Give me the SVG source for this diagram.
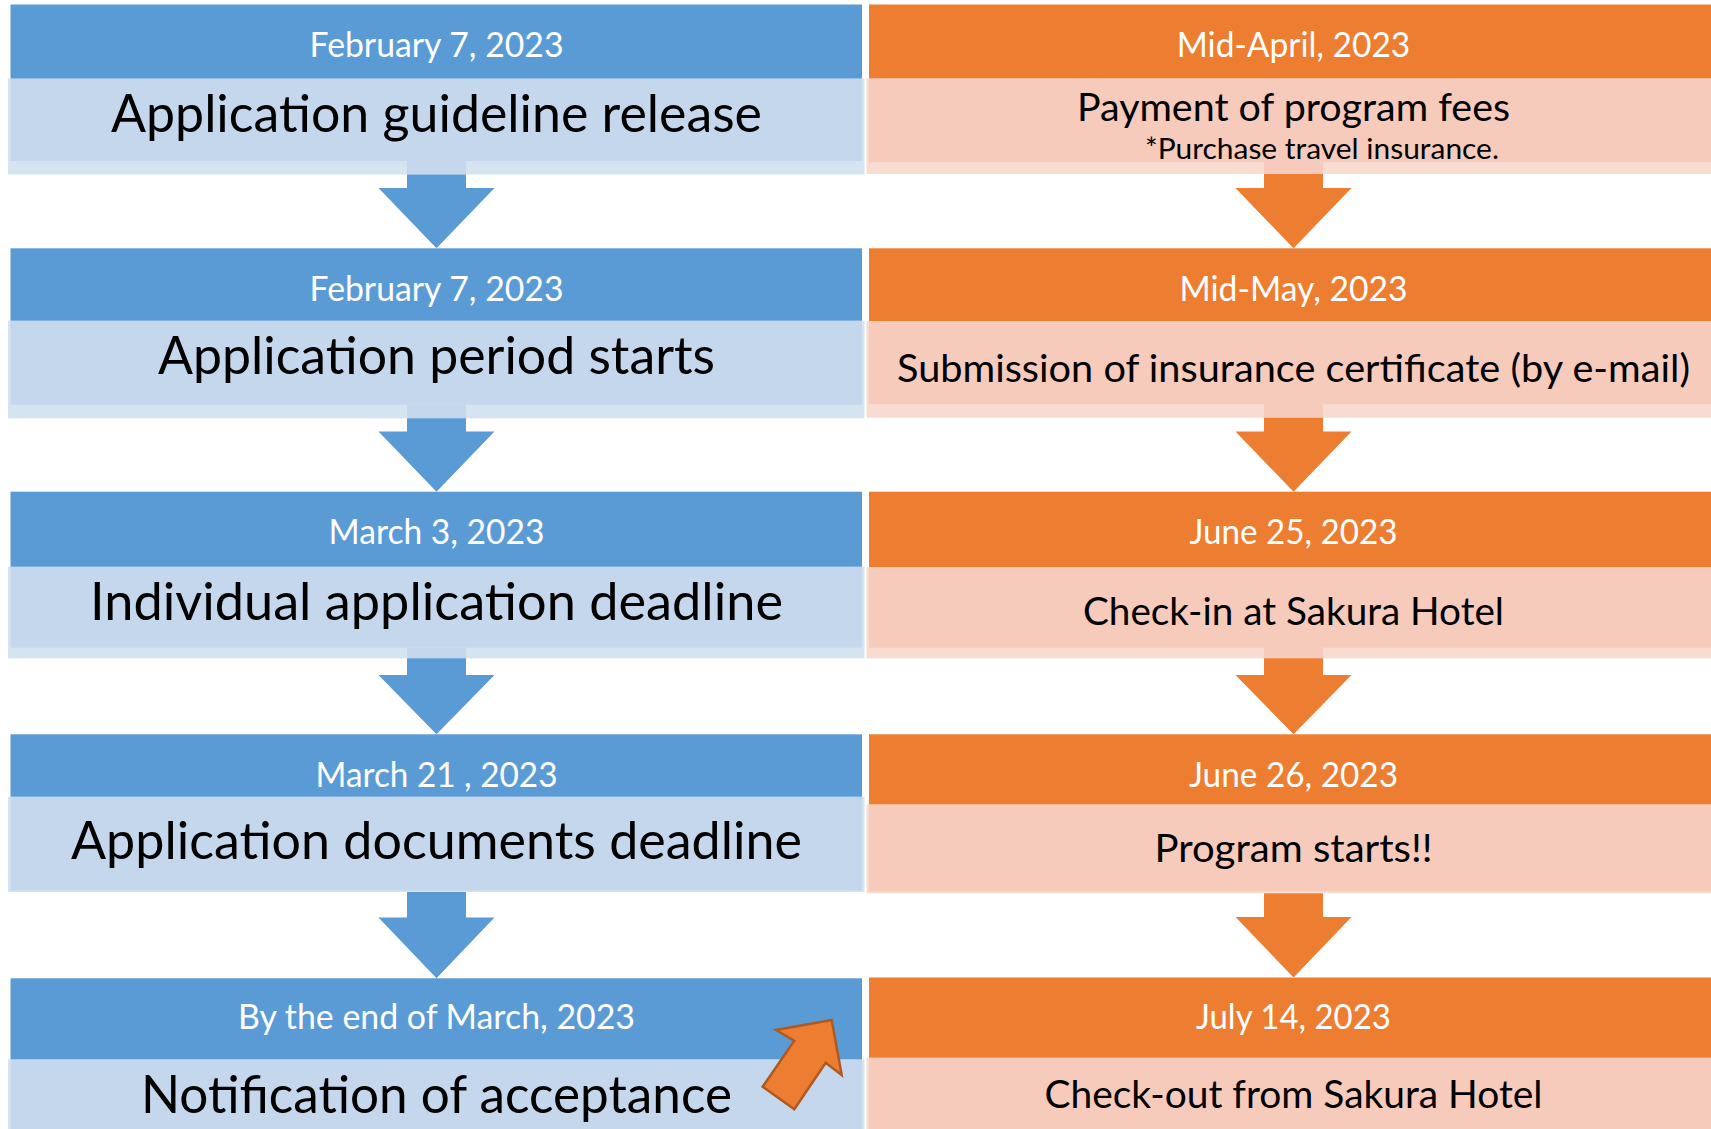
<svg xmlns="http://www.w3.org/2000/svg" width="1711" height="1129" viewBox="0 0 1711 1129">
<defs>
<style>
.hdrB{fill:#5b9bd5}.bodyB{fill:#c5d7ec}.bandB{fill:#d6e3f1}
.hdrO{fill:#ed7d31}.bodyO{fill:#f6cbbc}.bandO{fill:#f8dcd2}
text{font-family:Lato,"Liberation Sans",sans-serif;text-anchor:middle}
.date{font-size:34.5px;fill:#ffffff}
.mainL{font-size:51.5px;fill:#000000}
.mainR{font-size:39.5px;fill:#000000}
.note{font-size:29.5px;fill:#000000}
.arB{fill:#5b9bd5}.arO{fill:#ed7d31}
.ptr{fill:#ed7d31;stroke:#ae5a21;stroke-width:2.5;stroke-linejoin:miter}
</style>
</defs>
<rect width="1711" height="1129" fill="#ffffff"/>

<g id="L1">
<rect class="bandB" x="8" y="78.5" width="856.5" height="96"/>
<rect class="bodyB" x="10.5" y="78.5" width="851.5" height="82.5"/>
<rect class="hdrB" x="10.5" y="4.5" width="851.5" height="74"/>
<text class="date" x="436.5" y="56.7" textLength="254" lengthAdjust="spacingAndGlyphs">February 7, 2023</text>
<text class="mainL" x="436.5" y="131.7" textLength="651" lengthAdjust="spacingAndGlyphs">Application guideline release</text>
</g>
<g id="L2">
<rect class="bandB" x="8" y="320.7" width="856.5" height="97.6"/>
<rect class="bodyB" x="10.5" y="320.7" width="851.5" height="84"/>
<rect class="hdrB" x="10.5" y="248.3" width="851.5" height="72.4"/>
<text class="date" x="436.5" y="300.5" textLength="254" lengthAdjust="spacingAndGlyphs">February 7, 2023</text>
<text class="mainL" x="436.5" y="373.5" textLength="557" lengthAdjust="spacingAndGlyphs">Application period starts</text>
</g>
<g id="L3">
<rect class="bandB" x="8" y="566.7" width="856.5" height="91.6"/>
<rect class="bodyB" x="10.5" y="566.7" width="851.5" height="81"/>
<rect class="hdrB" x="10.5" y="491.7" width="851.5" height="75"/>
<text class="date" x="436.5" y="544" textLength="216" lengthAdjust="spacingAndGlyphs">March 3, 2023</text>
<text class="mainL" x="436.5" y="620" textLength="693" lengthAdjust="spacingAndGlyphs">Individual application deadline</text>
</g>
<g id="L4">
<rect class="bandB" x="8" y="796.7" width="856.5" height="95.3"/>
<rect class="bodyB" x="10.5" y="796.7" width="851.5" height="93.8"/>
<rect class="hdrB" x="10.5" y="734.3" width="851.5" height="62.4"/>
<text class="date" x="436.5" y="786.7" textLength="242" lengthAdjust="spacingAndGlyphs">March 21 , 2023</text>
<text class="mainL" x="436.5" y="859.3" textLength="731" lengthAdjust="spacingAndGlyphs">Application documents deadline</text>
</g>
<g id="L5">
<rect class="bandB" x="8" y="1059.3" width="856.5" height="70"/>
<rect class="bodyB" x="10.5" y="1059.3" width="851.5" height="70"/>
<rect class="hdrB" x="10.5" y="978.3" width="851.5" height="81"/>
<text class="date" x="436.5" y="1029.3" textLength="397" lengthAdjust="spacingAndGlyphs">By the end of March, 2023</text>
<text class="mainL" x="436.5" y="1113.3" textLength="591" lengthAdjust="spacingAndGlyphs">Notification of acceptance</text>
</g>

<g id="R1">
<rect class="bandO" x="866.5" y="78.3" width="844.5" height="95.7"/>
<rect class="bodyO" x="869" y="78.3" width="842" height="84"/>
<rect class="hdrO" x="869" y="4.5" width="842" height="73.8"/>
<text class="date" x="1293.5" y="56.7" textLength="233.5" lengthAdjust="spacingAndGlyphs">Mid-April, 2023</text>
<text class="mainR" x="1293.5" y="121" textLength="433" lengthAdjust="spacingAndGlyphs">Payment of program fees</text>
<text class="note" x="1322" y="159.3" textLength="354" lengthAdjust="spacingAndGlyphs">*Purchase travel insurance.</text>
</g>
<g id="R2">
<rect class="bandO" x="866.5" y="321" width="844.5" height="96.7"/>
<rect class="bodyO" x="869" y="321" width="842" height="83.3"/>
<rect class="hdrO" x="869" y="248.3" width="842" height="72.7"/>
<text class="date" x="1293.5" y="300.5" textLength="228" lengthAdjust="spacingAndGlyphs">Mid-May, 2023</text>
<text class="mainR" x="1293.5" y="381.5" textLength="793" lengthAdjust="spacingAndGlyphs">Submission of insurance certificate (by e-mail)</text>
</g>
<g id="R3">
<rect class="bandO" x="866.5" y="567" width="844.5" height="91.3"/>
<rect class="bodyO" x="869" y="567" width="842" height="80.7"/>
<rect class="hdrO" x="869" y="491.7" width="842" height="75.3"/>
<text class="date" x="1293.5" y="544" textLength="208" lengthAdjust="spacingAndGlyphs">June 25, 2023</text>
<text class="mainR" x="1293.5" y="624.5" textLength="421" lengthAdjust="spacingAndGlyphs">Check-in at Sakura Hotel</text>
</g>
<g id="R4">
<rect class="bandO" x="866.5" y="804.3" width="844.5" height="89"/>
<rect class="bodyO" x="869" y="804.3" width="842" height="87.2"/>
<rect class="hdrO" x="869" y="734.3" width="842" height="70"/>
<text class="date" x="1293.5" y="786.7" textLength="209" lengthAdjust="spacingAndGlyphs">June 26, 2023</text>
<text class="mainR" x="1293.5" y="862" textLength="278" lengthAdjust="spacingAndGlyphs">Program starts!!</text>
</g>
<g id="R5">
<rect class="bandO" x="866.5" y="1057.7" width="844.5" height="71.3"/>
<rect class="bodyO" x="869" y="1057.7" width="842" height="71.3"/>
<rect class="hdrO" x="869" y="977.5" width="842" height="80.2"/>
<text class="date" x="1293.5" y="1029.3" textLength="195" lengthAdjust="spacingAndGlyphs">July 14, 2023</text>
<text class="mainR" x="1293.5" y="1107.5" textLength="498" lengthAdjust="spacingAndGlyphs">Check-out from Sakura Hotel</text>
</g>

<g id="connectors">
<rect class="bodyB" x="407" y="161" width="59" height="13.5"/>
<path class="arB" d="M407,174.5H466V188H494.5L436.5,248.3L378.5,188H407Z"/>
<rect class="bodyB" x="407" y="404.7" width="59" height="13.6"/>
<path class="arB" d="M407,418.3H466V431.5H494.5L436.5,491.7L378.5,431.5H407Z"/>
<rect class="bodyB" x="407" y="647.7" width="59" height="10.6"/>
<path class="arB" d="M407,658.3H466V675H494.5L436.5,734.3L378.5,675H407Z"/>
<path class="arB" d="M407,892H466V917.5H494.5L436.5,978.3L378.5,917.5H407Z"/>

<rect class="bodyO" x="1264" y="162.3" width="59" height="11.7"/>
<path class="arO" d="M1264,174H1323V188H1351.5L1293.5,248.3L1235.5,188H1264Z"/>
<rect class="bodyO" x="1264" y="404.3" width="59" height="13.4"/>
<path class="arO" d="M1264,417.7H1323V431.5H1351.5L1293.5,491.7L1235.5,431.5H1264Z"/>
<rect class="bodyO" x="1264" y="647.7" width="59" height="10.6"/>
<path class="arO" d="M1264,658.3H1323V675H1351.5L1293.5,734.3L1235.5,675H1264Z"/>
<path class="arO" d="M1264,893.3H1323V917H1351.5L1293.5,977.5L1235.5,917H1264Z"/>
</g>

<g id="pointer">
<polygon class="ptr" points="831.7,1020 776,1030 794.3,1040.7 762.7,1086.7 794.3,1109.3 825.7,1062.7 841.7,1075"/>
</g>
</svg>
